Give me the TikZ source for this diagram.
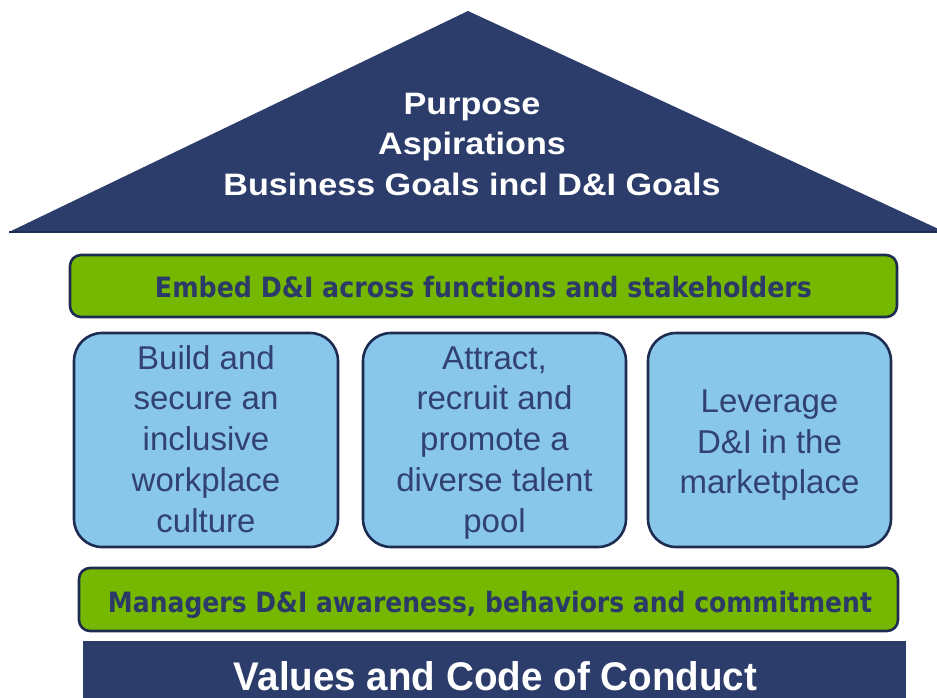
\documentclass[tikz,border=0pt]{standalone}
\usepackage{fontspec}
\usepackage{graphicx}
\setmainfont{Liberation Sans}
\newfontfamily\barfont{DejaVu Sans}
\definecolor{navy}{RGB}{44,61,107}
\definecolor{edgenavy}{RGB}{30,44,82}
\definecolor{leaf}{RGB}{118,184,0}
\definecolor{sky}{RGB}{136,198,234}
\definecolor{boxtext}{RGB}{50,66,112}
\definecolor{bartext}{RGB}{44,58,104}
\newcommand{\fitw}[2]{\resizebox{#1}{\height}{#2}}
\begin{document}
\begin{tikzpicture}[x=1pt,y=-1pt,
  greenbar/.style={draw=edgenavy,line width=2.6pt,fill=leaf,rounded corners=11pt},
  pillar/.style={draw=edgenavy,line width=2.6pt,fill=sky,rounded corners=28pt},
  pillartext/.style={text=boxtext,inner sep=0pt,font=\fontsize{33}{40.75}\selectfont},
  bartxt/.style={text=bartext,inner sep=0pt,anchor=base,font=\barfont\bfseries\fontsize{28}{30}\selectfont},
  whitetxt/.style={text=white,inner sep=0pt,font=\bfseries}]
\useasboundingbox (0,0) rectangle (937,698);
% roof
\fill[navy] (9,232) -- (468,11) -- (945,232) -- cycle;
\draw[edgenavy,line width=1.2pt] (9,232) -- (945,232);
\node[whitetxt,font=\bfseries\fontsize{31}{40}\selectfont] (roof) at (472,147)
  {\fitw{497pt}{\begin{tabular}{@{}c@{}}Purpose\\Aspirations\\Business Goals incl D\&I Goals\end{tabular}}};
% top green bar
\draw[greenbar] (70,255) rectangle (897,317);
\node[bartxt] (embed) at (483.5,297) {\fitw{657pt}{Embed D\&I across functions and stakeholders}};
% pillars
\draw[pillar] (74,333) rectangle (338,547);
\draw[pillar] (363,333) rectangle (626,547);
\draw[pillar] (648,333) rectangle (891,547);
\node[pillartext] (p1) at (206,442.4)
  {\begin{tabular}{@{}c@{}}Build and\\secure an\\inclusive\\workplace\\culture\end{tabular}};
\node[pillartext] (p2) at (494.5,442.4)
  {\begin{tabular}{@{}c@{}}Attract,\\recruit and\\promote a\\diverse talent\\pool\end{tabular}};
\node[pillartext] (p3) at (769.5,445)
  {\begin{tabular}{@{}c@{}}Leverage\\D\&I in the\\marketplace\end{tabular}};
% bottom green bar
\draw[greenbar] (79,568) rectangle (898,631);
\node[bartxt] (managers) at (490,612) {\fitw{764pt}{Managers D\&I awareness, behaviors and commitment}};
% foundation
\fill[navy] (83,641) rectangle (906,705);
\node[whitetxt,anchor=base,font=\bfseries\fontsize{40}{42}\selectfont] (values) at (495.5,690)
  {\fitw{523pt}{Values and Code of Conduct}};
\end{tikzpicture}
\end{document}
